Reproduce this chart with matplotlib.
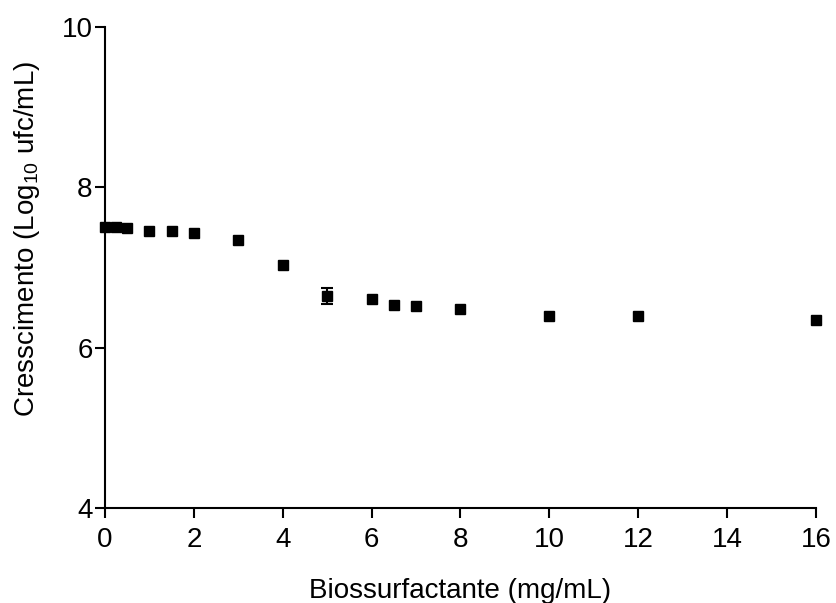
import matplotlib.pyplot as plt

plt.rcParams["font.family"] = ["Liberation Sans", "DejaVu Sans"]
plt.rcParams["mathtext.default"] = "regular"

conc = [0, 0.25, 0.5, 1, 1.5, 2, 3, 4, 5, 6, 6.5, 7, 8, 10, 12, 16]
growth = [7.51, 7.50, 7.49, 7.46, 7.45, 7.43, 7.34, 7.03, 6.64, 6.61, 6.53, 6.52,
          6.48, 6.39, 6.40, 6.34]
err = [0, 0, 0, 0, 0, 0, 0, 0, 0.10, 0, 0, 0, 0, 0, 0, 0]

fig = plt.figure(figsize=(8.36, 6.03), dpi=100)
ax = fig.add_axes([0.1256, 0.1575, 0.8504, 0.7977])

# error bars only where the spread is visible
ex = [c for c, e in zip(conc, err) if e > 0]
ey = [g for g, e in zip(growth, err) if e > 0]
ee = [e for e in err if e > 0]
ax.errorbar(ex, ey, yerr=ee, fmt="none", ecolor="black",
            capsize=4.5, elinewidth=1.5, capthick=1.5, zorder=2)
ax.plot(conc, growth, "s", color="black", ms=7, clip_on=False, zorder=3)

ax.set_xlim(0, 16)
ax.set_ylim(4, 10)
ax.set_xticks([0, 2, 4, 6, 8, 10, 12, 14, 16])
ax.set_yticks([4, 6, 8, 10])

for s in ["top", "right"]:
    ax.spines[s].set_visible(False)
for s in ["left", "bottom"]:
    ax.spines[s].set_linewidth(1.5)
ax.tick_params(direction="out", length=7, width=1.5, labelsize=20, pad=2)
ax.tick_params(axis="x", pad=7)

ax.set_xlabel("Biossurfactante (mg/mL)", fontsize=20, labelpad=18)
ax.set_ylabel("Cresscimento (Log$_{10}$ ufc/mL)", fontsize=20)
ax.yaxis.set_label_coords(-0.088, 0.56)

fig.savefig("out.png", dpi=100)
